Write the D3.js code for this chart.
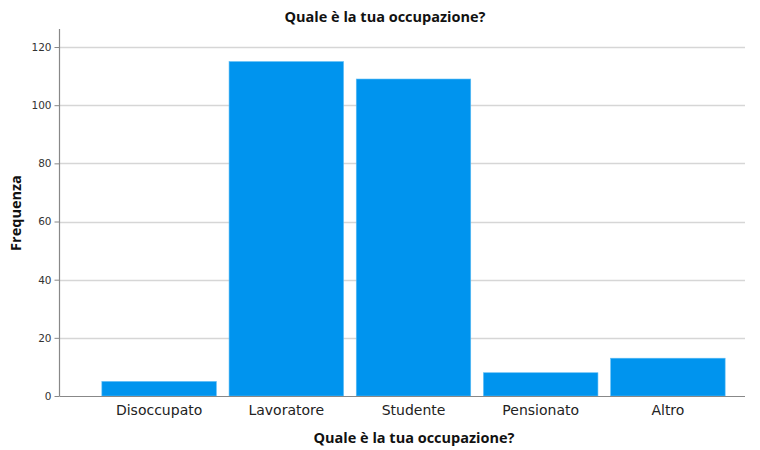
<!DOCTYPE html>
<html>
<head>
<meta charset="utf-8">
<script src="https://cdn.jsdelivr.net/npm/d3@7"></script>
<style>
  body { margin: 0; background: #fff; }
  svg { display: block; font-family: "Open Sans", "DejaVu Sans", sans-serif; }
</style>
</head>
<body>
<svg id="chart" width="760" height="450"></svg>
<script>
// occupation counts
const categories = ["Disoccupato", "Lavoratore", "Studente", "Pensionato", "Altro"];
const counts = [5, 115, 109, 8, 13];
const yTicks = [0, 20, 40, 60, 80, 100, 120];

const titleText = "Quale è la tua occupazione?";
const xLabel = "Quale è la tua occupazione?";
const yLabel = "Frequenza";

const svg = d3.select("#chart");
const axisX = 59.5, plotRight = 745, plotTop = 29, plotBottom = 396;

const x = d3.scaleBand()
  .domain(categories)
  .range([95.5, 731.5])
  .paddingInner(0.1)
  .paddingOuter(0.05);

const y = d3.scaleLinear().domain([0, 126.2]).range([plotBottom, plotTop]);

// gridlines
svg.append("g")
  .selectAll("line")
  .data(yTicks.filter((t) => t > 0))
  .join("line")
  .attr("x1", axisX)
  .attr("x2", plotRight)
  .attr("y1", (d) => Math.round(y(d)) + 0.5)
  .attr("y2", (d) => Math.round(y(d)) + 0.5)
  .attr("stroke", "#d6d6d6")
  .attr("stroke-width", 1.5);

// bars
svg.append("g")
  .selectAll("rect")
  .data(categories)
  .join("rect")
  .attr("x", (d) => x(d))
  .attr("width", x.bandwidth())
  .attr("y", (d, i) => y(counts[i]))
  .attr("height", (d, i) => plotBottom - y(counts[i]))
  .attr("fill", "#0094ee")
  .attr("stroke", "#5cbcf5")
  .attr("stroke-width", 0.6);

// y axis
const yAxis = svg.append("g")
  .attr("transform", `translate(${axisX},0)`)
  .call(d3.axisLeft(y).tickValues(yTicks).tickSize(5).tickPadding(3));
yAxis.select(".domain").remove();
yAxis.selectAll(".tick line").attr("stroke", "#888");
yAxis.selectAll(".tick text")
  .attr("fill", "#333")
  .style("font-family", "DejaVu Sans, sans-serif")
  .style("font-size", "10.5px");
svg.append("line")
  .attr("x1", axisX).attr("x2", axisX)
  .attr("y1", plotTop).attr("y2", plotBottom)
  .attr("stroke", "#888").attr("stroke-width", 1.2);

// x axis
const xAxis = svg.append("g")
  .attr("transform", `translate(0,${plotBottom})`)
  .call(d3.axisBottom(x).tickSize(0).tickPadding(9));
xAxis.select(".domain").remove();
xAxis.selectAll(".tick text")
  .attr("fill", "#222")
  .style("font-family", "DejaVu Sans, sans-serif")
  .style("font-size", "14px");
svg.append("line")
  .attr("x1", axisX).attr("x2", plotRight)
  .attr("y1", plotBottom + 0.5).attr("y2", plotBottom + 0.5)
  .attr("stroke", "#888").attr("stroke-width", 1.2);

// titles
svg.append("text")
  .attr("x", 385).attr("y", 22)
  .attr("text-anchor", "middle")
  .style("font-size", "14.5px").style("font-weight", "bold")
  .attr("fill", "#111")
  .text(titleText);

svg.append("text")
  .attr("x", 414).attr("y", 443)
  .attr("text-anchor", "middle")
  .style("font-size", "14.5px").style("font-weight", "bold")
  .attr("fill", "#111")
  .text(xLabel);

svg.append("text")
  .attr("transform", "translate(21,213) rotate(-90)")
  .attr("text-anchor", "middle")
  .style("font-size", "14.5px").style("font-weight", "bold")
  .attr("fill", "#111")
  .text(yLabel);
</script>
</body>
</html>
